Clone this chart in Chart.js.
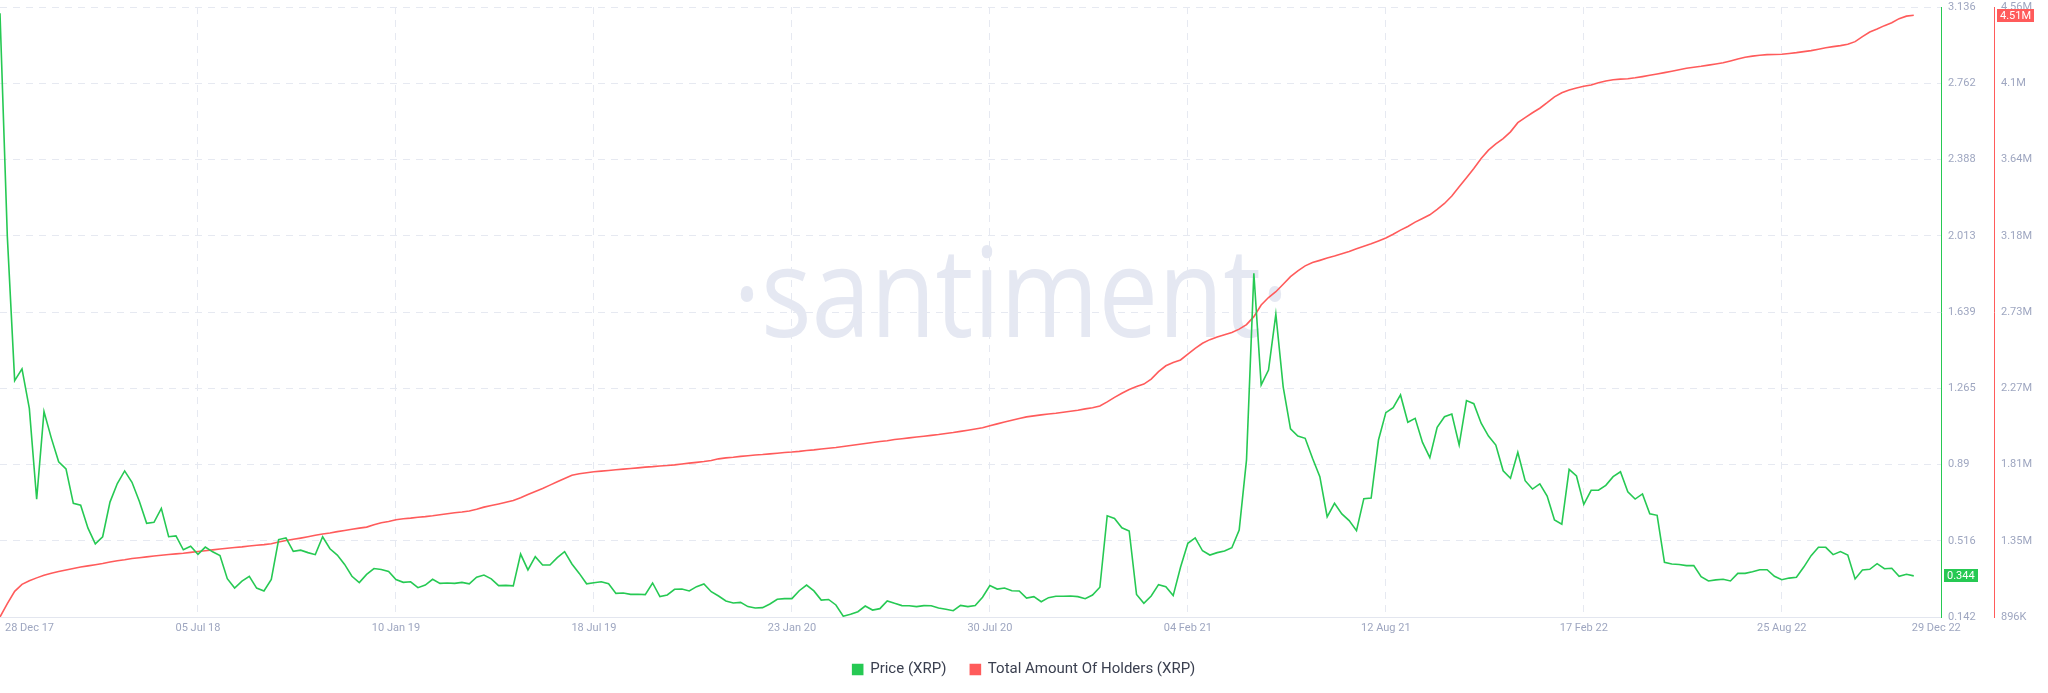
<!DOCTYPE html>
<html>
<head>
<meta charset="utf-8">
<script src="https://cdn.jsdelivr.net/npm/chart.js@4.4.0/dist/chart.umd.min.js"></script>
<style>
html,body{margin:0;padding:0;background:#ffffff;}
#wrap{width:2048px;height:693px;position:relative;}
</style>
</head>
<body>
<div id="wrap"><canvas id="c" width="2048" height="693"></canvas></div>
<script>
// ---------- DATA ----------
const startDate = '2017-12-28';          // first weekly point
const weekStep = 7;                       // days between points

// Price (XRP), weekly, USD
const price = [
3.105,2.009,1.302,1.360,1.166,0.720,1.150,1.020,0.904,0.869,
0.700,0.691,0.578,0.501,0.536,0.706,0.797,0.859,0.803,0.710,
0.602,0.607,0.675,0.536,0.540,0.472,0.489,0.450,0.485,0.462,
0.444,0.330,0.284,0.318,0.342,0.284,0.270,0.326,0.522,0.530,
0.464,0.470,0.458,0.448,0.536,0.477,0.446,0.400,0.342,0.311,
0.351,0.380,0.375,0.365,0.326,0.312,0.315,0.286,0.299,0.327,
0.307,0.309,0.307,0.312,0.305,0.337,0.348,0.329,0.296,0.297,
0.295,0.451,0.373,0.438,0.397,0.397,0.433,0.463,0.402,0.356,
0.305,0.310,0.315,0.305,0.258,0.260,0.253,0.254,0.252,0.309,
0.242,0.250,0.278,0.279,0.270,0.291,0.304,0.266,0.245,0.221,
0.211,0.214,0.193,0.186,0.188,0.206,0.229,0.232,0.232,0.271,
0.299,0.270,0.225,0.228,0.201,0.146,0.155,0.168,0.196,0.176,
0.183,0.221,0.209,0.198,0.197,0.193,0.198,0.197,0.186,0.180,
0.173,0.199,0.193,0.198,0.239,0.296,0.279,0.284,0.271,0.270,
0.235,0.242,0.217,0.237,0.244,0.244,0.245,0.242,0.232,0.250,
0.288,0.639,0.626,0.580,0.564,0.253,0.209,0.245,0.301,0.291,
0.247,0.386,0.504,0.530,0.467,0.446,0.458,0.466,0.482,0.569,
0.913,1.829,1.281,1.354,1.628,1.272,1.065,1.030,1.019,0.921,
0.831,0.634,0.700,0.648,0.615,0.566,0.723,0.726,1.011,1.145,
1.169,1.232,1.098,1.117,0.999,0.924,1.073,1.125,1.138,0.986,
1.204,1.189,1.093,1.030,0.986,0.860,0.823,0.950,0.811,0.770,
0.795,0.736,0.618,0.597,0.867,0.834,0.695,0.764,0.764,0.788,
0.831,0.855,0.757,0.721,0.746,0.649,0.641,0.410,0.402,0.400,
0.394,0.395,0.340,0.319,0.324,0.327,0.319,0.356,0.356,0.364,
0.374,0.374,0.342,0.325,0.333,0.337,0.387,0.443,0.484,0.484,
0.448,0.463,0.446,0.329,0.373,0.376,0.404,0.379,0.381,0.342,
0.352,0.344
];

// Total Amount Of Holders (XRP), weekly, in millions
const holdersM = [
0.896,0.976,1.050,1.092,1.114,1.131,1.147,1.159,1.169,1.178,
1.187,1.196,1.203,1.210,1.217,1.226,1.234,1.240,1.247,1.252,
1.257,1.262,1.267,1.271,1.275,1.279,1.284,1.289,1.294,1.299,
1.304,1.309,1.313,1.317,1.322,1.327,1.331,1.336,1.346,1.356,
1.363,1.370,1.378,1.387,1.395,1.401,1.409,1.416,1.423,1.430,
1.436,1.450,1.462,1.470,1.480,1.486,1.490,1.495,1.499,1.504,
1.510,1.516,1.522,1.527,1.533,1.543,1.556,1.566,1.575,1.585,
1.596,1.612,1.632,1.650,1.668,1.688,1.708,1.728,1.748,1.756,
1.762,1.768,1.772,1.776,1.780,1.784,1.788,1.792,1.796,1.799,
1.803,1.806,1.810,1.815,1.820,1.825,1.830,1.836,1.846,1.852,
1.856,1.861,1.865,1.869,1.872,1.876,1.880,1.884,1.887,1.891,
1.896,1.900,1.905,1.910,1.914,1.920,1.926,1.932,1.938,1.944,
1.950,1.955,1.962,1.967,1.972,1.977,1.982,1.987,1.992,1.998,
2.004,2.011,2.018,2.025,2.033,2.045,2.056,2.067,2.078,2.088,
2.098,2.104,2.110,2.115,2.120,2.126,2.132,2.138,2.146,2.153,
2.163,2.188,2.215,2.240,2.262,2.280,2.295,2.325,2.370,2.405,
2.425,2.440,2.475,2.510,2.540,2.562,2.578,2.592,2.605,2.625,
2.652,2.700,2.770,2.815,2.850,2.895,2.940,2.975,3.005,3.025,
3.038,3.052,3.064,3.078,3.092,3.108,3.123,3.138,3.155,3.172,
3.195,3.220,3.242,3.268,3.290,3.312,3.345,3.380,3.425,3.480,
3.535,3.590,3.650,3.700,3.738,3.770,3.810,3.865,3.895,3.925,
3.952,3.985,4.020,4.045,4.062,4.074,4.084,4.092,4.105,4.115,
4.123,4.127,4.129,4.135,4.142,4.150,4.158,4.166,4.174,4.183,
4.192,4.198,4.204,4.211,4.218,4.225,4.236,4.248,4.258,4.265,
4.270,4.274,4.275,4.276,4.281,4.286,4.292,4.298,4.306,4.315,
4.322,4.328,4.336,4.352,4.382,4.410,4.428,4.448,4.465,4.490,
4.505,4.510
];

// x-axis tick dates and labels
const xTickDates  = ['2017-12-28','2018-07-05','2019-01-10','2019-07-18','2020-01-23','2020-07-30','2021-02-04','2021-08-12','2022-02-17','2022-08-25','2022-12-29'];
const xTickLabels = ['28 Dec 17','05 Jul 18','10 Jan 19','18 Jul 19','23 Jan 20','30 Jul 20','04 Feb 21','12 Aug 21','17 Feb 22','25 Aug 22','29 Dec 22'];
const xAxisEndDate = '2023-01-24';

// y-axis ticks
const priceTicks       = [0.142,0.516,0.89,1.265,1.639,2.013,2.388,2.762,3.136];
const priceTickLabels  = ['0.142','0.516','0.89','1.265','1.639','2.013','2.388','2.762','3.136'];
const holderTicksM     = [0.896,1.354,1.812,2.27,2.728,3.186,3.644,4.102,4.56];
const holderTickLabels = ['896K','1.35M','1.81M','2.27M','2.73M','3.18M','3.64M','4.1M','4.56M'];

const seriesNames = ['Price (XRP)','Total Amount Of Holders (XRP)'];

// ---------- STYLE ----------
const FONT = 'Roboto, "Liberation Sans", Arial, sans-serif';
const GREEN = '#26c953';
const RED = '#ff5b5b';
const TICK = '#9ea6c0';
const GRID = '#e6e9f1';
const AXIS = '#e3e6ef';

const dayOf = d => Math.round((Date.parse(d) - Date.parse(startDate)) / 864e5);
const xTickDays = xTickDates.map(dayOf);
const priceData = price.map((v, i) => ({x: i * weekStep, y: v}));
const holderData = holdersM.map((v, i) => ({x: i * weekStep, y: v * 1e6}));

const watermark = {
  id: 'watermark',
  beforeDraw(chart) {
    const ctx = chart.ctx;
    ctx.save();
    ctx.font = '400 124px "Open Sans", sans-serif';
    const txt = '\u00B7santiment\u00B7';
    const w = ctx.measureText(txt).width;
    const target = 556;
    ctx.translate(1011, 337);
    ctx.scale(target / w, 1);
    ctx.fillStyle = '#e5e8f2';
    ctx.textAlign = 'center';
    ctx.textBaseline = 'alphabetic';
    ctx.fillText(txt, 0, 0);
    ctx.restore();
  }
};

const xLabels = {
  id: 'xLabels',
  afterDraw(chart) {
    const ctx = chart.ctx, xs = chart.scales.x;
    const y = chart.chartArea.bottom + 11;
    ctx.save();
    ctx.font = '11px ' + FONT;
    ctx.fillStyle = TICK;
    ctx.textBaseline = 'middle';
    xTickDays.forEach((d, i) => {
      const px = xs.getPixelForValue(d);
      if (i === 0) { ctx.textAlign = 'left'; ctx.fillText(xTickLabels[i], px + 5, y); }
      else if (i === xTickDays.length - 1) { ctx.textAlign = 'left'; ctx.fillText(xTickLabels[i], px - 2, y); }
      else { ctx.textAlign = 'center'; ctx.fillText(xTickLabels[i], px, y); }
    });
    ctx.restore();
  }
};

function badge(ctx, x, yc, text, color) {
  ctx.font = '11px ' + FONT;
  const w = Math.round(ctx.measureText(text).width) + 6;
  const h = 13;
  ctx.fillStyle = color;
  ctx.fillRect(x, Math.round(yc - h / 2), w, h);
  ctx.fillStyle = '#ffffff';
  ctx.textAlign = 'left';
  ctx.textBaseline = 'middle';
  ctx.fillText(text, x + 3, yc + 0.5);
}

const badges = {
  id: 'badges',
  afterDraw(chart) {
    const ctx = chart.ctx;
    const ys = chart.scales.y, y1 = chart.scales.y1;
    ctx.save();
    const lp = price[price.length - 1];
    badge(ctx, ys.left + 3, ys.getPixelForValue(lp), lp.toFixed(3), GREEN);
    const lh = holdersM[holdersM.length - 1];
    badge(ctx, y1.left + 3, y1.getPixelForValue(lh * 1e6), lh.toFixed(2) + 'M', RED);
    ctx.restore();
  }
};

const noPad = s => { s.paddingTop = 0; s.paddingBottom = 0; s.paddingLeft = 0; s.paddingRight = 0; };

new Chart(document.getElementById('c'), {
  type: 'line',
  data: {
    datasets: [
      {label: seriesNames[0], data: priceData, yAxisID: 'y', borderColor: GREEN, backgroundColor: GREEN,
       borderWidth: 1.6, pointRadius: 0, tension: 0},
      {label: seriesNames[1], data: holderData, yAxisID: 'y1', borderColor: RED, backgroundColor: RED,
       borderWidth: 1.6, pointRadius: 0, tension: 0}
    ]
  },
  options: {
    responsive: false,
    animation: false,
    devicePixelRatio: 1,
    layout: {padding: {top: 7, bottom: 6, left: 0, right: 0}},
    plugins: {
      legend: {
        position: 'bottom',
        labels: {boxWidth: 10, boxHeight: 10, padding: 24, color: '#3b4050', font: {family: FONT, size: 15}}
      },
      tooltip: {enabled: false}
    },
    scales: {
      x: {
        type: 'linear',
        min: 0,
        max: dayOf(xAxisEndDate),
        afterBuildTicks: s => { s.ticks = xTickDays.map(v => ({value: v})); },
        ticks: {display: false},
        grid: {
          color: c => (c.tick && (c.tick.value === xTickDays[0] || c.tick.value === xTickDays[xTickDays.length - 1])) ? 'rgba(0,0,0,0)' : GRID,
          drawTicks: false, lineWidth: 1
        },
        border: {color: AXIS, width: 1, dash: [7, 6]},
        afterFit: s => { s.height = 21; noPad(s); }
      },
      y: {
        position: 'right',
        weight: 0,
        min: priceTicks[0],
        max: priceTicks[priceTicks.length - 1],
        afterBuildTicks: s => { s.ticks = priceTicks.map(v => ({value: v})); },
        ticks: {callback: (v, i) => priceTickLabels[i], color: TICK, font: {family: FONT, size: 11}, padding: 7, autoSkip: false},
        grid: {color: GRID, drawTicks: false, lineWidth: 1},
        border: {color: GREEN, width: 1, dash: [7, 6]},
        afterFit: s => { s.width = 53; noPad(s); }
      },
      y1: {
        position: 'right',
        weight: 1,
        min: holderTicksM[0] * 1e6,
        max: holderTicksM[holderTicksM.length - 1] * 1e6,
        afterBuildTicks: s => { s.ticks = holderTicksM.map(v => ({value: v * 1e6})); },
        ticks: {callback: (v, i) => holderTickLabels[i], color: TICK, font: {family: FONT, size: 11}, padding: 7, autoSkip: false},
        grid: {drawOnChartArea: false, drawTicks: false},
        border: {color: RED, width: 1},
        afterFit: s => { s.width = 54; noPad(s); }
      }
    }
  },
  plugins: [watermark, xLabels, badges]
});
</script>
</body>
</html>
